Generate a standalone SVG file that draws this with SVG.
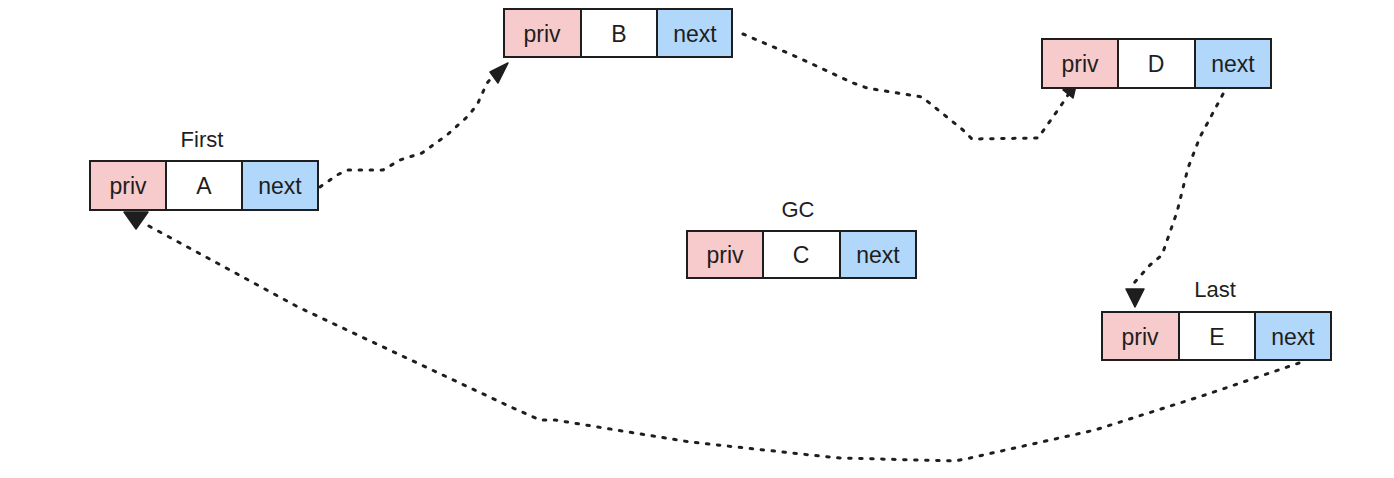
<svg xmlns="http://www.w3.org/2000/svg" width="1394" height="478" viewBox="0 0 1394 478">
<style>
.bg{fill:#ffffff}
.priv{fill:#f7cbcb;stroke:#1e1e1e;stroke-width:2}
.mid{fill:#ffffff;stroke:#1e1e1e;stroke-width:2}
.next{fill:#b1d7fa;stroke:#1e1e1e;stroke-width:2}
text{font-family:"Liberation Sans",Arial,sans-serif;font-size:23px;fill:#1e1e1e;text-anchor:middle}
.lbl{font-size:22px}
.dot{fill:none;stroke:#1e1e1e;stroke-width:3;stroke-dasharray:2.5 8.5;stroke-linecap:round;stroke-linejoin:round}
.head{fill:#1e1e1e;stroke:#1e1e1e;stroke-width:1.5;stroke-linejoin:round}
</style>
<rect class="bg" x="0" y="0" width="1394" height="478"/>
<g id="connectors">
  <polyline class="dot" points="320,187 337,175 348,170 383,170 400,160 422,153 447,135 467,117 477,105 487,83 497,72"/>
  <polygon class="head" points="490,72 508,63 498,83"/>
  <polyline class="dot" points="743,34 797,57 853,83 867,88 922,97 963,130 972,139 1038,138 1060,107 1068,95"/>
  <polygon class="head" points="1077,81 1063,90 1073,98"/>
  <polyline class="dot" points="1223,94 1200,137 1188,168 1177,212 1162,255 1150,265 1134,283"/>
  <polygon class="head" points="1126,289 1144,289 1135,307"/>
  <polyline class="dot" points="1299,363 1205,395 1095,430 970,458 955,461 840,458 820,456 690,442 555,420 540,420 513,408 298,307 147,225"/>
  <polygon class="head" points="124,212 148,212 136,229"/>
</g>
<g id="node-A">
  <text class="lbl" x="202" y="147">First</text>
  <rect class="priv" x="90" y="161" width="76" height="49"/>
  <rect class="mid" x="166" y="161" width="76" height="49"/>
  <rect class="next" x="242" y="161" width="76" height="49"/>
  <text x="128" y="194">priv</text>
  <text x="204" y="194">A</text>
  <text x="280" y="194">next</text>
</g>
<g id="node-B">
  <rect class="priv" x="504" y="9" width="77" height="48"/>
  <rect class="mid" x="581" y="9" width="76" height="48"/>
  <rect class="next" x="657" y="9" width="75" height="48"/>
  <text x="542" y="42">priv</text>
  <text x="619" y="42">B</text>
  <text x="695" y="42">next</text>
</g>
<g id="node-C">
  <text class="lbl" x="798" y="217">GC</text>
  <rect class="priv" x="687" y="231" width="76" height="47"/>
  <rect class="mid" x="763" y="231" width="77" height="47"/>
  <rect class="next" x="840" y="231" width="76" height="47"/>
  <text x="725" y="263">priv</text>
  <text x="801" y="263">C</text>
  <text x="878" y="263">next</text>
</g>
<g id="node-D">
  <rect class="priv" x="1042" y="39" width="76" height="49"/>
  <rect class="mid" x="1118" y="39" width="77" height="49"/>
  <rect class="next" x="1195" y="39" width="76" height="49"/>
  <text x="1080" y="72">priv</text>
  <text x="1156" y="72">D</text>
  <text x="1233" y="72">next</text>
</g>
<g id="node-E">
  <text class="lbl" x="1215" y="297">Last</text>
  <rect class="priv" x="1102" y="312" width="77" height="48"/>
  <rect class="mid" x="1179" y="312" width="76" height="48"/>
  <rect class="next" x="1255" y="312" width="76" height="48"/>
  <text x="1140" y="345">priv</text>
  <text x="1217" y="345">E</text>
  <text x="1293" y="345">next</text>
</g>
</svg>
